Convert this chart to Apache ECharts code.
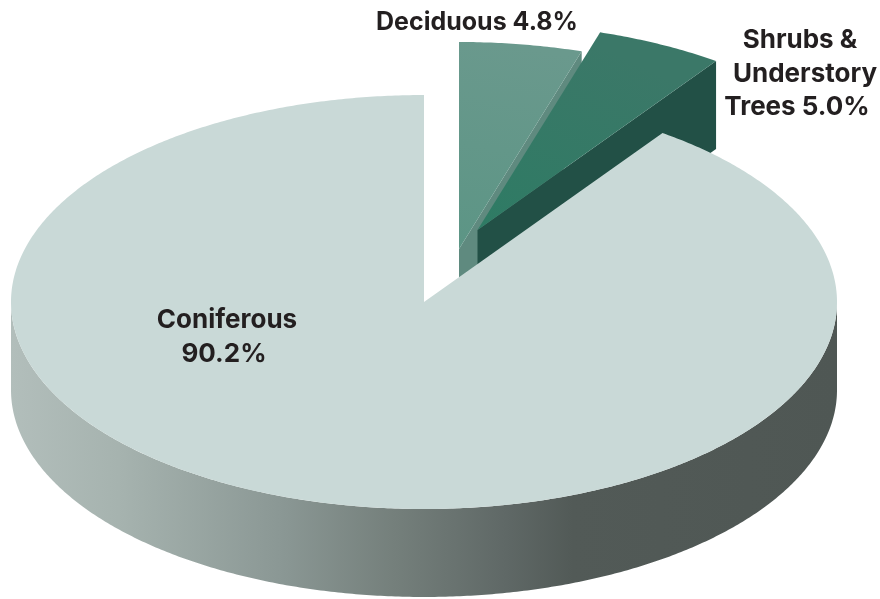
<!DOCTYPE html>
<html>
<head>
<meta charset="utf-8">
<style>html,body{margin:0;padding:0;background:#fff}#c{width:880px;height:599px}</style>
<script src="https://cdn.jsdelivr.net/npm/echarts@6/dist/echarts.min.js"></script>
</head>
<body>
<div id="c"></div>
<script>
var categories = ['Deciduous', 'Shrubs & Understory Trees', 'Coniferous'];
var shares = [4.8, 5.0, 90.2];
var labelLines = [
  ['Deciduous 4.8%'],
  ['Shrubs &', 'Understory', 'Trees 5.0%'],
  ['Coniferous', '90.2%']
];

var RX = 413, RY = 207, DEPTH = 88;
var apexes = [[459, 249], [477.5, 230], [424, 302]];
var labelAt = [[[477, 22]], [[800, 40], [805, 74], [797, 107]], [[227, 320], [224, 354]]];
var labelSize = [25, 26, 26];
var topFill = [
  {type:'linear',x:0,y:1,x2:0.3,y2:0,colorStops:[{offset:0,color:'#5c9585'},{offset:1,color:'#6a998d'}]},
  {type:'linear',x:0,y:1,x2:0.4,y2:0,colorStops:[{offset:0,color:'#2e7b64'},{offset:1,color:'#3b7868'}]},
  '#c9d9d7'
];
var radialWall = ['#5f8a7f', '#225046', null];
var total = shares.reduce(function (a, b) { return a + b; }, 0);

function pt(c, deg, dy) {
  var a = deg * Math.PI / 180;
  return [c[0] + RX * Math.sin(a), c[1] - RY * Math.cos(a) + (dy || 0)];
}
function arc(c, a0, a1, dy) {
  var out = [], n = Math.max(2, Math.ceil(Math.abs(a1 - a0) * 2));
  for (var i = 0; i <= n; i++) out.push(pt(c, a0 + (a1 - a0) * i / n, dy));
  return out;
}

function renderItem(params, api) {
  var i = params.dataIndex, start = 0;
  for (var k = 0; k < i; k++) start += shares[k] / total * 360;
  var end = start + api.value(0) / total * 360;
  var c = apexes[i], kids = [];

  if (radialWall[i]) {
    var e = pt(c, end);
    kids.push({type:'polygon', shape:{points:[c, e, [e[0], e[1] + DEPTH], [c[0], c[1] + DEPTH]]},
      style:{fill: radialWall[i]}});
  }
  var a0 = Math.max(start, 90), a1 = Math.min(end, 270);
  if (a1 > a0) {
    kids.push({type:'polygon',
      shape:{points: arc(c, a0, a1, 0).concat(arc(c, a1, a0, DEPTH))},
      style:{fill:{type:'linear',x:0,y:0,x2:1,y2:0,colorStops:[
        {offset:0,color:'#b2bebb'},{offset:0.13,color:'#a6b3af'},{offset:0.33,color:'#8a9794'},
        {offset:0.46,color:'#75807c'},{offset:0.6,color:'#5f6866'},{offset:0.68,color:'#525a57'},
        {offset:1,color:'#4f5754'}]}}});
  }
  kids.push({type:'polygon', shape:{points:[c].concat(arc(c, start, end, 0))},
    style:{fill: topFill[i]}});

  labelLines[i].forEach(function (t, j) {
    kids.push({type:'text', x: labelAt[i][j][0], y: labelAt[i][j][1],
      style:{text:t, fill:'#231f20', font:'700 ' + labelSize[i] + 'px Inter', align:'center', verticalAlign:'middle'}});
  });
  return {type:'group', children:kids};
}

var chart = echarts.init(document.getElementById('c'), null, {renderer:'canvas'});
chart.setOption({
  animation:false,
  backgroundColor:'#ffffff',
  series:[{
    type:'custom',
    coordinateSystem:'none',
    silent:true,
    renderItem:renderItem,
    data: shares.map(function (v, i) { return {name: categories[i], value:[v]}; })
  }]
});
</script>
</body>
</html>
